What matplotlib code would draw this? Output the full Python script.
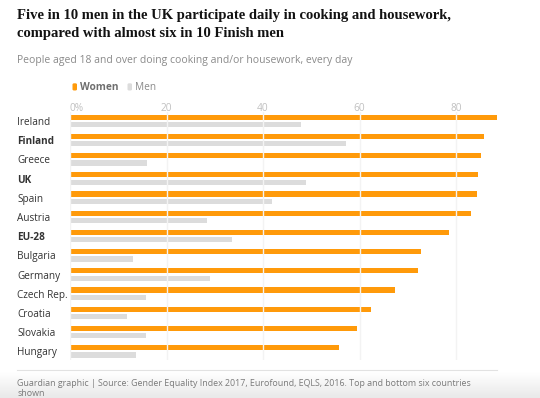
import matplotlib
matplotlib.use("Agg")
import matplotlib.pyplot as plt
import numpy as np
from matplotlib.patches import FancyBboxPatch

countries = ["Ireland", "Finland", "Greece", "UK", "Spain", "Austria", "EU-28",
             "Bulgaria", "Germany", "Czech Rep.", "Croatia", "Slovakia", "Hungary"]
women = [88.6, 85.7, 85.2, 84.5, 84.4, 83.2, 78.6, 72.8, 72.2, 67.4, 62.3, 59.5, 55.8]
men = [47.9, 57.2, 16.0, 48.9, 41.9, 28.3, 33.6, 13.0, 29.0, 15.8, 11.8, 15.7, 13.7]
bold_labels = ["Finland", "UK", "EU-28"]
ticks = [0, 20, 40, 60, 80]
tick_labels = ["0%", "20", "40", "60", "80"]

W, H = 540, 398
fig = plt.figure(figsize=(W / 100, H / 100), dpi=100)
fig.patch.set_facecolor("white")

def fx(px):
    return px / W

def fy(py):
    return 1 - py / H

# bottom gradient band
grad_ax = fig.add_axes([0, 0, 1, fy(372)])
grad = np.linspace(1.0, 0.0, 64).reshape(-1, 1)
grad_ax.imshow(grad, aspect="auto",
               cmap=matplotlib.colors.LinearSegmentedColormap.from_list("g", ["#e9e9e9", "#ffffff"]),
               extent=[0, 1, 0, 1], vmin=0, vmax=1)
grad_ax.axis("off")

left_px, right_px = 70, 70 + 90 * 4.825
top_px, bot_px = 112, 360
ax = fig.add_axes([fx(left_px), fy(bot_px), fx(right_px - left_px), (bot_px - top_px) / H])
ax.set_facecolor("none")

y = np.arange(len(countries))
off = 0.19
h = 0.27
ax.barh(y - off, women, height=h, color="#ff9a0a", zorder=2)
ax.barh(y + off, men, height=h, color="#dcdcdc", zorder=2)

ax.set_xlim(0, 90)
ax.set_ylim((bot_px - 120.9) / 19.2, (top_px - 120.9) / 19.2)

ax.xaxis.tick_top()
ax.set_xticks(ticks)
ax.set_xticklabels(tick_labels, fontsize=7.3, color="#c0c0c0", family="Open Sans")
ax.get_xticklabels()[0].set_ha("left")
ax.tick_params(axis="x", length=0, pad=-1.5)

ax.set_yticks(y)
ax.set_yticklabels(countries, fontsize=7.2, color="#333333", family="Open Sans", ha="left")
for lab in ax.get_yticklabels():
    if lab.get_text() in bold_labels:
        lab.set_fontweight("bold")
ax.tick_params(axis="y", length=0, pad=(left_px - 17) * 0.72)

for s in ax.spines.values():
    s.set_visible(False)
ax.grid(axis="x", color="#f3f3f3", lw=1.0, zorder=3)
ax.set_axisbelow(False)

# title and subtitle
fig.text(fx(17), fy(15), "Five in 10 men in the UK participate daily in cooking and housework,",
         fontsize=10.5, fontweight="bold", family="Liberation Serif", color="#121212", va="center")
fig.text(fx(17), fy(34), "compared with almost six in 10 Finish men",
         fontsize=10.5, fontweight="bold", family="Liberation Serif", color="#121212", va="center")
fig.text(fx(17), fy(61), "People aged 18 and over doing cooking and/or housework, every day",
         fontsize=7.5, family="Open Sans", color="#8a8a8a", va="center")

# legend
fig.patches.append(FancyBboxPatch((fx(72.5), fy(90.5)), fx(4.5), 7.2 / H,
                                  boxstyle="round,pad=0,rounding_size=0.003", transform=fig.transFigure,
                                  facecolor="#ff9a0a", edgecolor="none"))
fig.text(fx(80.5), fy(87.5), "Women", fontsize=7.3, fontweight="bold", family="Open Sans",
         color="#6e6e6e", va="center")
fig.patches.append(FancyBboxPatch((fx(127.5), fy(90.5)), fx(4.5), 7.2 / H,
                                  boxstyle="round,pad=0,rounding_size=0.003", transform=fig.transFigure,
                                  facecolor="#dcdcdc", edgecolor="none"))
fig.text(fx(135.5), fy(87.5), "Men", fontsize=7.3, family="Open Sans", color="#8a8a8a", va="center")

# footer
fig.lines.append(plt.Line2D([fx(17), fx(497)], [fy(370), fy(370)], transform=fig.transFigure,
                            color="#e2e2e2", lw=0.8))
fig.text(fx(17), fy(384), "Guardian graphic | Source: Gender Equality Index 2017, Eurofound, EQLS, 2016. "
         "Top and bottom six countries", fontsize=6.4, family="Open Sans", color="#7a7a7a", va="center")
fig.text(fx(17), fy(394), "shown", fontsize=6.4, family="Open Sans", color="#7a7a7a", va="center")

fig.savefig("out.png", dpi=100, facecolor="white")
